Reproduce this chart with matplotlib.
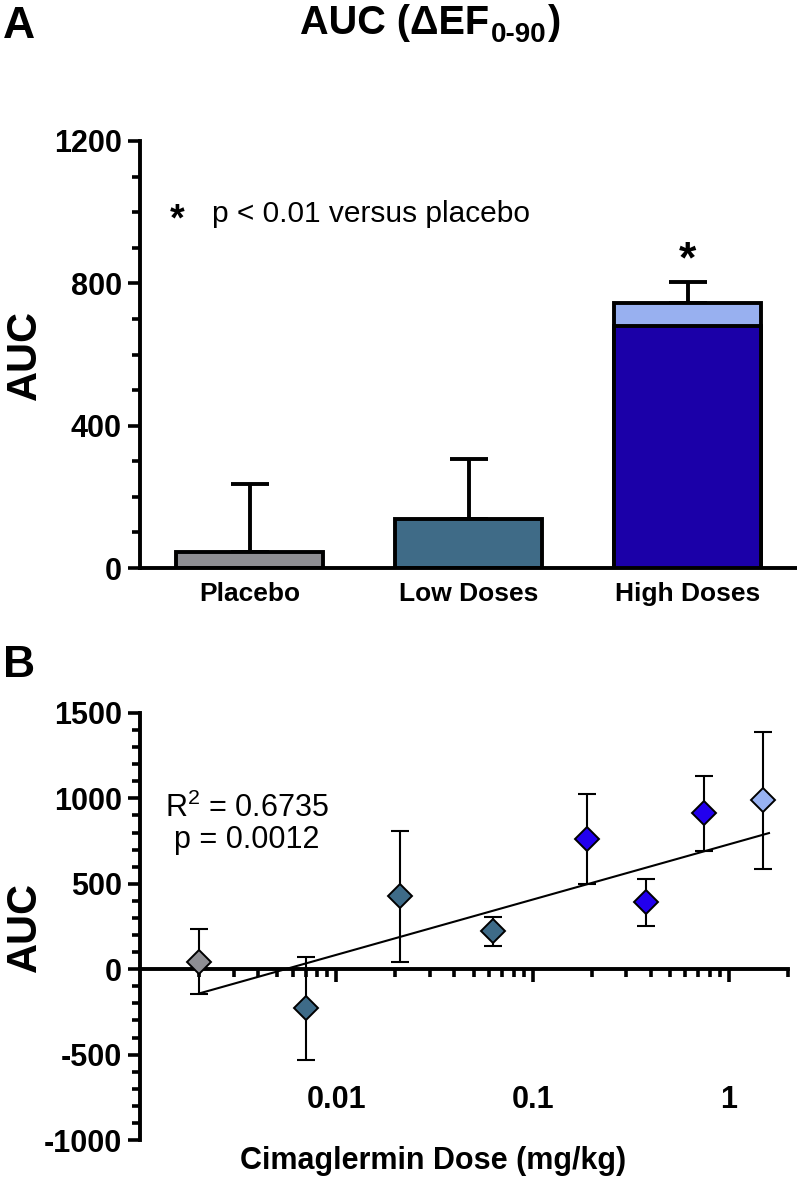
import numpy as np
import matplotlib
matplotlib.use('Agg')
import matplotlib.pyplot as plt
from matplotlib.ticker import FixedLocator, LogLocator, MultipleLocator, NullFormatter

plt.rcParams['font.family'] = ['Liberation Sans', 'DejaVu Sans']
plt.rcParams['font.weight'] = 'bold'
plt.rcParams['axes.labelweight'] = 'bold'
plt.rcParams['axes.unicode_minus'] = False
plt.rcParams['mathtext.default'] = 'regular'

# Panel A: AUC by group (mean + SEM)
groups = ['Placebo', 'Low Doses', 'High Doses']
auc_mean = [45, 138, 745]
auc_sem = [190, 168, 59]
high_inner = 680  # darker lower part of the high dose bar
bar_colors = ['#8e8e93', '#3f6b87', '#98b0f0']
inner_color = '#1b00a8'

# Panel B: AUC per dose level (mean +/- SEM)
doses = [0.002, 0.007, 0.021, 0.063, 0.19, 0.38, 0.75, 1.5]
dose_auc = [45, -230, 426, 221, 760, 391, 912, 988]
dose_sem = [190, 300, 384, 85, 264, 140, 222, 403]
dose_colors = ['#8e8e93', '#3e6b88', '#3e6b88', '#3e6b88',
               '#2200ee', '#2200ee', '#2200ee', '#98b2f2']
fit_intercept = 731
fit_slope = 323.5
fit_range = [0.002, 1.6]

W, H = 797, 1203
fig = plt.figure(figsize=(W / 100, H / 100), dpi=100)

# ---------------- panel A ----------------
ax1 = fig.add_axes([140 / W, 1 - 568 / H, 657 / W, 427 / H])
x = np.arange(len(groups))
ax1.errorbar(x, auc_mean, yerr=[np.zeros(len(x)), auc_sem], fmt='none',
             ecolor='black', elinewidth=2.8, capsize=14, capthick=2.8, zorder=1)
ax1.bar(x, auc_mean, width=0.67, color=bar_colors, edgecolor='black',
        linewidth=2.8, zorder=2)
ax1.bar(x[2], high_inner, width=0.67, color=inner_color, edgecolor='black',
        linewidth=2.8, zorder=3)
ax1.text(x[2], auc_mean[2] + auc_sem[2] + 2, '*', ha='center', va='bottom',
         fontsize=32)

ax1.set_xlim(-0.5, 2.5)
ax1.set_ylim(0, 1200)
ax1.set_xticks(x, labels=groups)
ax1.yaxis.set_major_locator(MultipleLocator(400))
ax1.yaxis.set_minor_locator(MultipleLocator(100))
ax1.tick_params(axis='x', length=0, pad=10, labelsize=19)
ax1.tick_params(axis='y', which='major', length=9, width=2.6, pad=4, labelsize=22)
ax1.tick_params(axis='y', which='minor', length=6, width=2.6)
for s in ['top', 'right']:
    ax1.spines[s].set_visible(False)
for s in ['left', 'bottom']:
    ax1.spines[s].set_linewidth(2.8)
ax1.set_ylabel('AUC', fontsize=30)
ax1.yaxis.set_label_coords(-0.145, 0.5)

ax1.text(0.057, 0.815, '*', transform=ax1.transAxes, ha='center', va='center',
         fontsize=27)
ax1.text(0.11, 0.83, 'p < 0.01 versus placebo', transform=ax1.transAxes,
         ha='left', va='center', fontsize=21.5, fontweight='normal')

# ---------------- panel B ----------------
ax2 = fig.add_axes([140 / W, 1 - 1140 / H, 648 / W, 427 / H])
ax2.set_xscale('log')
ax2.errorbar(doses, dose_auc, yerr=dose_sem, fmt='none', ecolor='black',
             elinewidth=1.5, capsize=6.5, capthick=1.5, zorder=2)
xs = np.logspace(np.log10(fit_range[0]), np.log10(fit_range[1]), 50)
ax2.plot(xs, fit_intercept + fit_slope * np.log10(xs), color='black', lw=1.5,
         zorder=2)
for d, v, c in zip(doses, dose_auc, dose_colors):
    ax2.plot(d, v, marker='D', markersize=12, color=c, markeredgecolor='black',
             markeredgewidth=1.4, zorder=3)

ax2.set_xlim(0.001, 2)
ax2.set_ylim(-1000, 1500)
ax2.xaxis.set_major_locator(FixedLocator([0.01, 0.1, 1]))
ax2.set_xticklabels(['0.01', '0.1', '1'])
ax2.xaxis.set_minor_locator(LogLocator(base=10, subs=np.arange(2, 10)))
ax2.xaxis.set_minor_formatter(NullFormatter())
ax2.yaxis.set_major_locator(MultipleLocator(500))
ax2.yaxis.set_minor_locator(MultipleLocator(100))
ax2.tick_params(axis='x', which='major', length=9.5, width=2.6, pad=74, labelsize=22)
ax2.tick_params(axis='x', which='minor', length=5.5, width=2.6)
ax2.tick_params(axis='y', which='major', length=9, width=2.6, pad=4, labelsize=22)
ax2.tick_params(axis='y', which='minor', length=6, width=2.6)
ax2.spines['bottom'].set_position(('data', 0))
for s in ['top', 'right']:
    ax2.spines[s].set_visible(False)
for s in ['left', 'bottom']:
    ax2.spines[s].set_linewidth(2.8)
ax2.set_ylabel('AUC', fontsize=30)
ax2.yaxis.set_label_coords(-0.147, 0.5)
ax2.set_xlabel('Cimaglermin Dose (mg/kg)', fontsize=22)
ax2.xaxis.set_label_coords((433 - 140) / 648, -0.015)

ax2.text(0.165, 0.74, 'R$^{2}$ = 0.6735\np = 0.0012', transform=ax2.transAxes,
         ha='center', va='center', fontsize=22, fontweight='normal',
         linespacing=1.05)

# ---------------- labels and title ----------------
fig.text(3 / W, 1 - 38 / H, 'A', fontsize=32, ha='left', va='baseline')
fig.text(3 / W, 1 - 677 / H, 'B', fontsize=32, ha='left', va='baseline')

t1 = fig.text(300 / W, 1 - 34 / H, 'AUC (\u0394EF', fontsize=28.5,
              ha='left', va='baseline')
t2 = ax1.annotate('0-90', xy=(1, 0), xycoords=t1, xytext=(1, 0),
                  textcoords='offset points', fontsize=20, ha='left',
                  va='baseline', annotation_clip=False)
ax1.annotate(')', xy=(1, 0), xycoords=(t2, t1), xytext=(1, 0),
             textcoords='offset points', fontsize=28.5, ha='left',
             va='bottom', annotation_clip=False)

fig.savefig('out.png', dpi=100)
